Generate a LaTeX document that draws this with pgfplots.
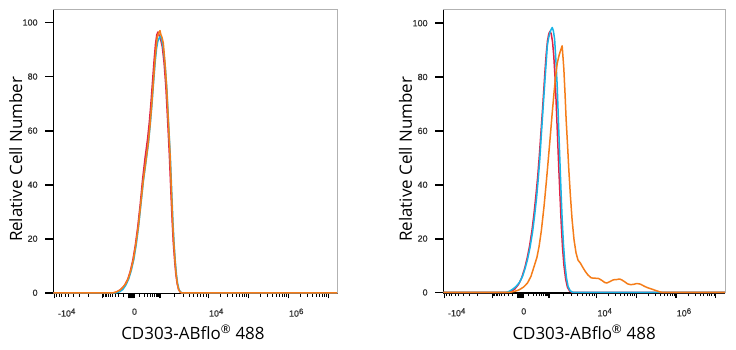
\documentclass[border=0pt]{standalone}
\usepackage{pgfplots}
\pgfplotsset{compat=1.18}
\usepackage{fontspec}
\setmainfont{Open Sans}
\newfontfamily\tickfont[FakeBold=0.8]{Liberation Sans}
\definecolor{cOr}{RGB}{245,125,25}
\definecolor{cCy}{RGB}{25,180,230}
\definecolor{cRd}{RGB}{225,35,70}
\newcommand{\expo}[1]{\raisebox{0.55ex}{\fontsize{8}{9}\selectfont #1}}
\pgfplotsset{
 flowax/.style={
  scale only axis, anchor=south west, clip=false,
  xmin=0, xmax=284.4, ymin=-0.2, ymax=105,
  axis x line*=bottom, axis y line*=left,
  x axis line style={line width=1.3bp, black},
  y axis line style={line width=0.9bp, black},
  tick align=outside,
  major tick length=5bp, minor tick length=3.2bp,
  major tick style={line width=1.2bp, black},
  minor tick style={line width=0.7bp, black},
  xtick={1,49.3,78,106.7,155,195,235,275,75.4,76.1,76.8,77.5,78.5,79.2,79.9,80.6},
  xticklabels={\hspace*{3bp}-10\expo{4},{},0,{},10\expo{4},{},10\expo{6},{},{},{},{},{},{},{},{},{}},
  minor xtick={3.2,5.7,8.5,11.7,15.5,20.2,26.3,34.8,50.5,51.8,53.2,54.9,56.8,59,61.7,65.2,70,86,90.8,94.3,97,99.2,101.1,102.8,104.2,105.5,121.2,129.7,135.8,140.5,144.3,147.5,150.3,152.8,167.0,174.1,179.1,183.0,186.1,188.8,191.1,193.2,207.0,214.1,219.1,223.0,226.1,228.8,231.1,233.2,247.0,254.1,259.1,263.0,266.1,268.8,271.1,273.2},
  ytick=\empty,
  extra y ticks={0,20,40,60,80,100},
  extra y tick labels={0,20,40,60,80,100},
  extra tick style={major tick length=8bp, major tick style={line width=1.8bp}},
  minor ytick={5,10,15,25,30,35,45,50,55,65,70,75,85,90,95,105},
  tick label style={font=\tickfont\fontsize{9}{10}\selectfont, text=black!80},
  xticklabel style={anchor=north west, inner sep=0pt, xshift=0.5bp, yshift=-10bp},
  yticklabel style={anchor=east, inner sep=0pt, xshift=-7.5bp},
  xlabel={CD303-ABflo\textsuperscript{®} 488},
  ylabel={Relative Cell Number},
  label style={font=\fontsize{17}{20}\selectfont, inner sep=0pt},
  every axis plot/.append style={line width=1.5bp, line join=round},
 }
}
\begin{document}
\begin{tikzpicture}
\path[use as bounding box] (0,0) rectangle (736bp,350bp);
% ---------------- left panel
\begin{axis}[flowax, at={(53.3bp,56.7bp)}, width=284.4bp, height=284.3bp,
  xlabel style={at={(rel axis cs:0.491,-0.164)}, anchor=base},
  ylabel style={at={(rel axis cs:-0.110,0.471)}, anchor=base}]
\addplot[cRd] coordinates {(0,0)(61,0)(64,0.4)(67.5,1.2)(71,2.6)(74.5,5)(77,8)(79.5,12)(82,17.5)(84.5,24.5)(87,33)(89.3,42)(91.8,50)(94.3,57)(96,63)(97.6,70)(99.2,78)(100.8,86)(102.2,92)(103.5,95.5)(104.7,96.5)(106,95)(107.5,93.5)(109,91)(110.8,85)(112.6,76)(114.3,64)(116,51.5)(117.4,39)(118.8,27)(120,18.5)(121.3,12)(122.5,7)(123.8,3.5)(125.2,1.3)(126.6,0.4)(128,0)(284.4,0)};
\addplot[cCy] coordinates {(0,0)(63.5,0)(66.5,0.4)(69.5,1.2)(72.5,2.8)(75.5,5.2)(78,8.3)(80.5,12.3)(83,18)(85.3,24.6)(87.7,33)(90.2,41.7)(92.7,48.5)(95.2,55.5)(96.9,62)(98.5,69)(100.2,77.5)(101.9,85.5)(103.3,90.5)(104.6,93.2)(106,94.3)(107.2,95)(108.3,93.8)(109.5,91.5)(110.5,89)(112.1,83)(113.7,74.5)(115.3,62.5)(117,50.5)(118.3,38.5)(119.6,26.5)(120.8,18)(122,11.5)(123.2,6.5)(124.4,3.2)(125.8,1.1)(127.2,0.3)(128.5,0)(284.4,0)};
\addplot[cOr] coordinates {(0,0)(60,0)(63,0.3)(66.7,1)(70,2.2)(72.5,3.4)(75,5.3)(77.5,8.2)(80,12.1)(82.5,17.8)(85,24.4)(87.5,33)(90,41.7)(92.5,48.5)(95,55.5)(96.7,62)(98.3,69)(100,77.5)(101.7,86.2)(103,91.5)(104,94.8)(105.3,96)(106.7,97)(107.6,95.5)(108.7,94.5)(110,92.4)(111.7,85)(113.3,76.3)(115,64)(116.7,51.6)(118,39)(119.3,26.9)(120.5,18.5)(121.7,12.1)(122.8,7)(124,3.5)(125.3,1.3)(126.7,0.4)(128,0)(284.4,0)};
\draw[gray!60, line width=0.8bp] (rel axis cs:0,1) -- (rel axis cs:1,1) -- (rel axis cs:1,0);
\end{axis}
% ---------------- right panel
\begin{axis}[flowax, at={(443.3bp,57bp)}, width=281.7bp, height=283.3bp,
  xlabel style={at={(rel axis cs:0.5,-0.165)}, anchor=base},
  ylabel style={at={(rel axis cs:-0.112,0.472)}, anchor=base}]
\addplot[cRd] coordinates {(0,0)(65,0)(68,0.3)(72,1.2)(76,3)(79,5.3)(82,8.8)(84.5,12.5)(87,17)(89.5,23)(91.5,29)(93.5,36)(95.3,43)(97,51)(98.5,59)(100,67)(101.5,75.5)(102.8,83)(104,89)(105.2,93.5)(106.5,96)(107.7,97)(109,96)(110.3,93)(111.5,88)(112.8,80)(114,70)(115.3,58)(116.5,47)(117.8,36)(119,26)(120.3,17)(121.8,10)(123.5,5)(125.3,2)(127.5,0.5)(130,0)(284.4,0)};
\addplot[cCy] coordinates {(0,0)(63,0)(66,0.3)(70,1.2)(73.4,2.2)(77,3.8)(80,6)(82.5,8.8)(85,12.2)(87.5,16.6)(90,22.1)(92,28)(94,34.5)(95.7,41.5)(97.4,49.4)(98.7,57)(100,64.3)(101.4,72)(102.7,79.2)(104,86)(105,91.6)(106.3,94.5)(107.7,96.5)(109,97.8)(110,98.4)(111.2,97)(112.4,94)(113.7,86)(115,76.7)(116.2,64)(117.4,51.9)(118.7,39)(120,27.1)(121.3,18)(122.7,10.9)(124.3,5.5)(126,2.2)(128,0.7)(130,0.2)(131.7,0)(284.4,0)};
\addplot[cOr] coordinates {(0,0)(66.7,0)(72,0.4)(76.7,1)(81,2)(85,3.5)(88.5,6)(91.7,9.7)(94.5,13)(96.7,17.1)(99,23)(101.7,32)(104,41)(106,49.4)(108,58)(110,66.8)(112,75)(113.4,80.4)(115,85)(116.7,87.8)(118.5,90)(120,91.6)(121.7,83)(123,73)(124,64.3)(125.4,55)(126.7,45.7)(128.3,36)(130,27.1)(132,19.5)(134,14.7)(136,12)(138.4,10.9)(141,9.2)(143.4,7.8)(146,6.5)(149.4,5.4)(153,5.3)(156.7,5.2)(160,4.5)(163,3.7)(165,3.5)(168,4)(171.7,4.7)(175,4.8)(178,5)(180,4.7)(183,4)(186,3.2)(189,2.9)(192,3)(195,3.3)(198,3.2)(200,2.9)(203,2.3)(206,1.8)(210,1.3)(214,0.8)(218,0.3)(221,0)(284.4,0)};
\draw[gray!60, line width=0.8bp] (rel axis cs:0,1) -- (rel axis cs:1,1) -- (rel axis cs:1,0);
\end{axis}
\end{tikzpicture}
\end{document}
